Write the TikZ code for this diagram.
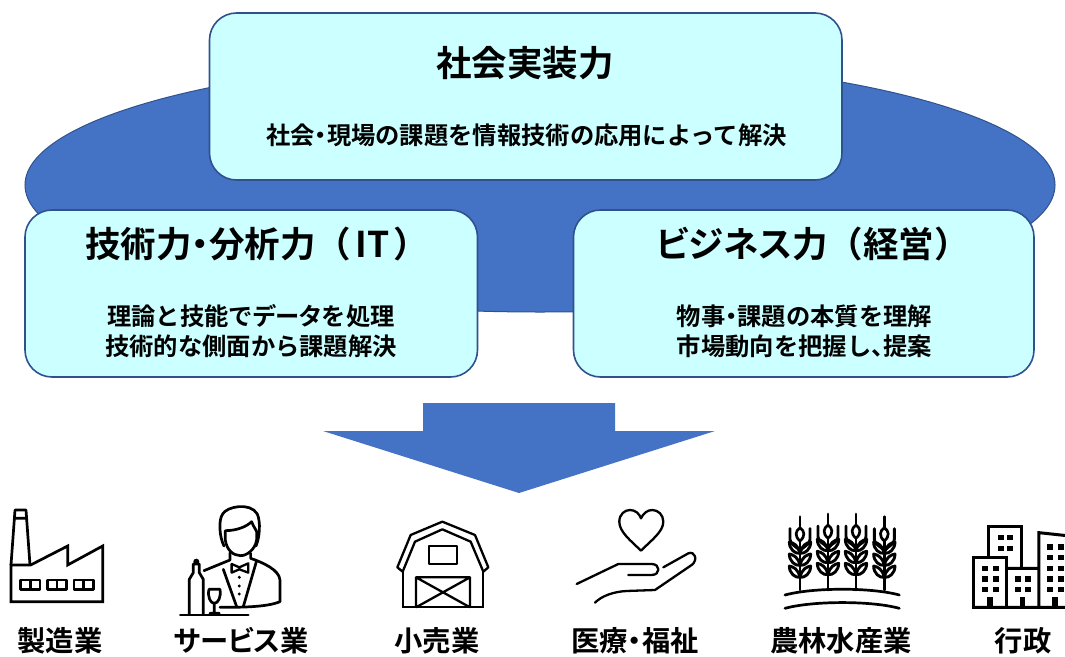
\documentclass[tikz,border=0pt]{standalone}
\usepackage{fontspec}
\setmainfont{Noto Sans CJK JP Bold}
\newfontface\pk{Noto Sans CJK JP Bold}[RawFeature={+palt}]
\tikzset{
 box/.style={draw=boxline,line width=1.6pt,fill=boxfill,rounded corners=27pt,outer sep=0pt,inner sep=0pt,anchor=north west},
 ttl/.style={inner sep=0pt,font=\fontsize{35.5}{36}\selectfont,anchor=center},
 sub/.style={inner sep=0pt,font=\fontsize{24.3}{30}\selectfont,align=center,anchor=center},
 lbl/.style={inner sep=0pt,font=\fontsize{28.3}{30}\selectfont,anchor=center},
 ic/.style={draw=black,line width=2.7pt,line join=round,line cap=round},
 zoomed/.style={x=.3333pt,y=-.3333pt}
}
\definecolor{boxfill}{HTML}{CCFFFF}
\definecolor{boxline}{HTML}{2F528F}
\definecolor{blue1}{HTML}{4472C4}
\begin{document}
\begin{tikzpicture}[x=1pt,y=-1pt]
\useasboundingbox (0,0) rectangle (1065,656);
\clip (0,0) rectangle (1065,656);
\fill[blue1,draw=boxline,line width=1pt] (540,185) ellipse [x radius=515,y radius=127];
\fill[blue1] (423,403) -- (615,403) -- (615,431) -- (715,431) -- (519,493) -- (323,431) -- (423,431) -- cycle;
\node[box,minimum width=632.5pt,minimum height=167pt] (b1) at (209.5,13) {};
\node[box,minimum width=452.5pt,minimum height=167pt] (b2) at (25,210) {};
\node[box,minimum width=460.5pt,minimum height=167pt] (b3) at (573.5,210) {};
\node[ttl] (t1) at (525,63) {社会実装力};
\node[sub] (s1) at (526.5,135) {社会{\pk ・}現場の課題を情報技術の応用によって解決};
\node[ttl] (t2) at (257,244) {技術力{\pk ・}分析力（\hspace{4pt}IT\hspace{4pt}）};
\node[sub] (s2) at (251,331.5) {理論と技能で{\pk データ}を処理\\技術的な側面から課題解決};
\node[ttl] (t3) at (813,244) {{\pk ビジネス}力（経営）};
\node[sub] (s3) at (804.5,331.5) {物事{\pk ・}課題の本質を理解\\市場動向を把握し{\pk 、}提案};
\node[lbl] (l1) at (60,641) {製造業};
\node[lbl] (l2) at (241,641) {{\pk サービス}業};
\node[lbl] (l3) at (437,641) {小売業};
\node[lbl] (l4) at (635,641) {医療{\pk ・}福祉};
\node[lbl] (l5) at (841,641) {農林水産業};
\node[lbl] (l6) at (1023,641) {行政};
% factory and waiter
\begin{scope}[shift={(0,490)},zoomed]
\draw[ic,line cap=butt,line join=miter] (33,225) -- (33,335) -- (308,335) -- (308,168) -- (203,225) -- (203,168) -- (92,225) -- cycle;
\draw[ic,line cap=butt] (33,225) -- (45,60) -- (78,60) -- (90,225) (43,85) -- (80,85);
\foreach \x in {62,142,222}{
 \draw[ic,line cap=butt] (\x,270) rectangle ++(58,28) (\x+29,270) -- ++(0,28);
}
\draw[ic] (672,168) .. controls (658,140) and (655,90) .. (668,72) .. controls (680,50) and (750,35) .. (772,72) .. controls (782,95) and (780,140) .. (768,168);
\draw[ic] (676,150) -- (676,122) .. controls (710,122) and (740,110) .. (755,95) .. controls (760,110) and (768,118) .. (770,125) -- (770,150) .. controls (765,180) and (740,197) .. (722,197) .. controls (700,197) and (680,180) .. (676,150);
\draw[ic] (690,188) -- (690,210) -- (612,242);
\draw[ic] (752,190) -- (752,205) .. controls (790,218) and (838,240) .. (840,270) -- (840,335) .. controls (800,352) and (720,352) .. (660,352);
\draw[ic] (670,238) -- (710,350) (770,212) -- (730,350);
\draw[ic,line width=2.3pt] (695,222) -- (718,232) -- (745,220) -- (745,248) -- (718,238) -- (695,248) -- cycle;
\foreach \y in {262,288,312}{\fill (718,\y) circle[radius=5];}
\draw[ic] (580,222) -- (598,222) -- (598,248) -- (610,268) -- (610,372) (580,222) -- (580,248) -- (568,268) -- (568,372);
\fill (589,215) circle[radius=9];
\draw[ic] (541,375) -- (745,375);
\draw[ic] (627,298) -- (660,298) .. controls (664,320) and (655,340) .. (643,340) .. controls (631,340) and (622,320) .. (627,298) (643,340) -- (643,370) (630,370) -- (658,370);
\end{scope}
% barn and hand
\begin{scope}[shift={(380,490)},zoomed]
\draw[ic,line cap=butt,line width=2.3pt] (68,245) -- (52,232) -- (92,135) -- (187,95) -- (285,135) -- (325,232) -- (310,245) -- (272,155) -- (187,118) -- (105,155) -- cycle;
\draw[ic,line cap=butt,line join=miter,line width=2.3pt] (68,245) -- (68,352) -- (310,352) -- (310,245);
\draw[ic,line cap=butt,line width=2.3pt] (147,167) rectangle (232,222);
\draw[ic,line cap=butt,line width=2.3pt] (108,352) -- (108,262) -- (270,262) -- (270,352) (108,262) -- (270,352) (270,262) -- (108,352);
\draw[ic,line width=2.3pt] (783,182) .. controls (750,150) and (718,125) .. (718,95) .. controls (718,72) and (735,60) .. (750,60) .. controls (765,60) and (778,70) .. (783,85) .. controls (790,70) and (802,60) .. (817,60) .. controls (835,60) and (850,75) .. (850,95) .. controls (850,125) and (815,150) .. (783,182) -- cycle;
\draw[ic,line width=2.3pt] (590,282) -- (715,222) -- (815,222) .. controls (842,222) and (842,255) .. (815,255) -- (745,255);
\draw[ic,line width=2.3pt] (850,232) -- (925,190) .. controls (945,182) and (955,210) .. (935,225) -- (825,300) -- (740,303) .. controls (700,305) and (665,318) .. (645,338);
\end{scope}
% wheat and buildings
\begin{scope}[shift={(750,490)},zoomed]
\foreach \x/\d in {150/8,234/0,318/0,403/8}{
 \begin{scope}[shift={(\x,\d)}]
 \draw[ic] (0,72) -- (0,106) (0,145) -- (0,300-\d);
 \draw[ic] (0,105) .. controls (-14,115) and (-17,130) .. (0,145) .. controls (17,130) and (14,115) .. (0,105) -- cycle;
 \draw[ic,line width=2.9pt] (-30,108) -- (-30,140) .. controls (-30,155) and (-15,158) .. (0,174) .. controls (15,158) and (30,155) .. (30,140) -- (30,108);
 \foreach \y in {148,184,220}{
  \draw[ic,line width=2.9pt] (0,\y+34) .. controls (-15,\y+36) and (-32,\y+22) .. (-32,\y) .. controls (-20,\y+2) and (-5,\y+10) .. (0,\y+34);
  \draw[ic,line width=2.9pt] (0,\y+34) .. controls (15,\y+36) and (32,\y+22) .. (32,\y) .. controls (20,\y+2) and (5,\y+10) .. (0,\y+34);
 }
 \end{scope}
}
\draw[ic] (105,315) .. controls (190,292) and (364,292) .. (448,315);
\draw[ic] (105,355) .. controls (190,332) and (364,332) .. (448,355);
\draw[ic,line join=miter,line cap=butt,line width=3pt] (672,352) rectangle (770,203);
\draw[ic,line join=miter,line cap=butt,line width=3pt] (717,203) -- (717,108) -- (815,108) -- (815,235);
\draw[ic,line join=miter,line cap=butt,line width=3pt] (770,235) -- (867,235) (672,352) -- (960,352) (867,352) -- (867,128) -- (960,138);
\foreach \x/\y in {743/135,772/135,743/167,772/167,
 697/227,730/227,697/259,730/259,697/291,730/291,
 795/259,826/259,795/291,826/291,
 892/163,923/163,892/195,923/195,892/227,923/227,892/259,923/259,892/291,923/291}{
 \fill (\x,\y) rectangle ++(18,16);
}
\foreach \x in {712,810,907}{\fill (\x,322) rectangle ++(16,30);}
\end{scope}
\end{tikzpicture}
\end{document}
